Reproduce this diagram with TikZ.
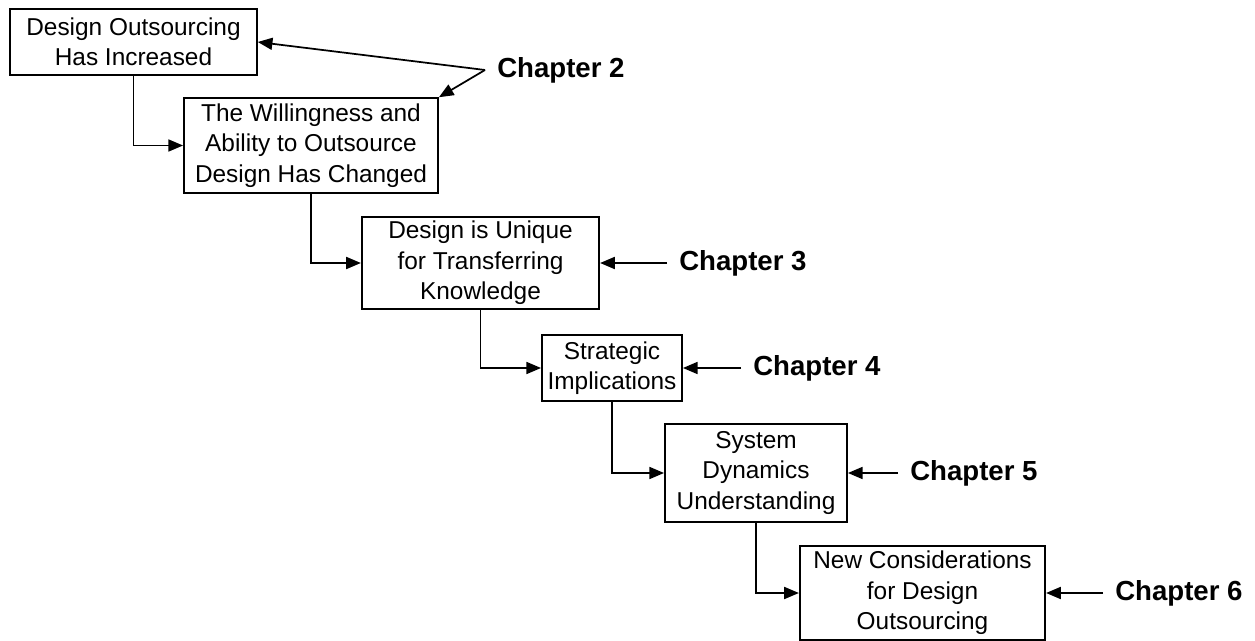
\documentclass[tikz,border=0pt]{standalone}
\usepackage{fontspec}
\setmainfont{Liberation Sans}
\usetikzlibrary{arrows.meta,positioning}

\begin{document}
\begin{tikzpicture}[x=0.75pt,y=-0.75pt,
  stage/.style={draw, line width=1.4pt, align=center, inner sep=0pt,
    font=\fontsize{18.3}{22.8}\selectfont},
  chap/.style={anchor=west, inner xsep=9pt, inner ysep=0pt,
    font=\bfseries\fontsize{20.7}{24}\selectfont},
  flow/.style={line width=1.3pt, -{Triangle[length=11pt,width=9pt]}}]
\useasboundingbox (0,0) rectangle (1255,641);
% the stages, stepping down to the right
\node[stage, minimum width=185pt, minimum height=49.5pt] (b1) at (133.5,42) {Design Outsourcing\\Has Increased};
\node[stage, minimum width=190.5pt, minimum height=71pt] (b2) at (311,145.5) {The Willingness and\\Ability to Outsource\\Design Has Changed};
\node[stage, minimum width=178pt, minimum height=69pt] (b3) at (480.5,263) {Design is Unique\\for Transferring\\Knowledge};
\node[stage, minimum width=105pt, minimum height=49.5pt] (b4) at (612,368) {Strategic\\Implications};
\node[stage, minimum width=136.5pt, minimum height=73.5pt] (b5) at (756,473) {System\\Dynamics\\Understanding};
\node[stage, minimum width=184pt, minimum height=70.5pt] (b6) at (922.5,593) {New Considerations\\for Design\\Outsourcing};
% flow from one stage to the next
\draw[flow] (b1.south) |- (b2.west);
\draw[flow] (b2.south) |- (b3.west);
\draw[flow] (b3.south) |- (b4.west);
\draw[flow] (b4.south) |- (b5.west);
\draw[flow] (b5.south) |- (b6.west);
% chapters
\node[chap] (c2) at (485,70) {Chapter 2};
\draw[flow] (c2.west) -- (b1.east);
\draw[flow] (c2.west) -- (b2.north east);
\node[chap] (c3) at (667,263) {Chapter 3};
\draw[flow] (c3.west) -- (b3.east);
\node[chap] (c4) at (741,368) {Chapter 4};
\draw[flow] (c4.west) -- (b4.east);
\node[chap] (c5) at (898,473) {Chapter 5};
\draw[flow] (c5.west) -- (b5.east);
\node[chap] (c6) at (1103,593) {Chapter 6};
\draw[flow] (c6.west) -- (b6.east);
\end{tikzpicture}
\end{document}
